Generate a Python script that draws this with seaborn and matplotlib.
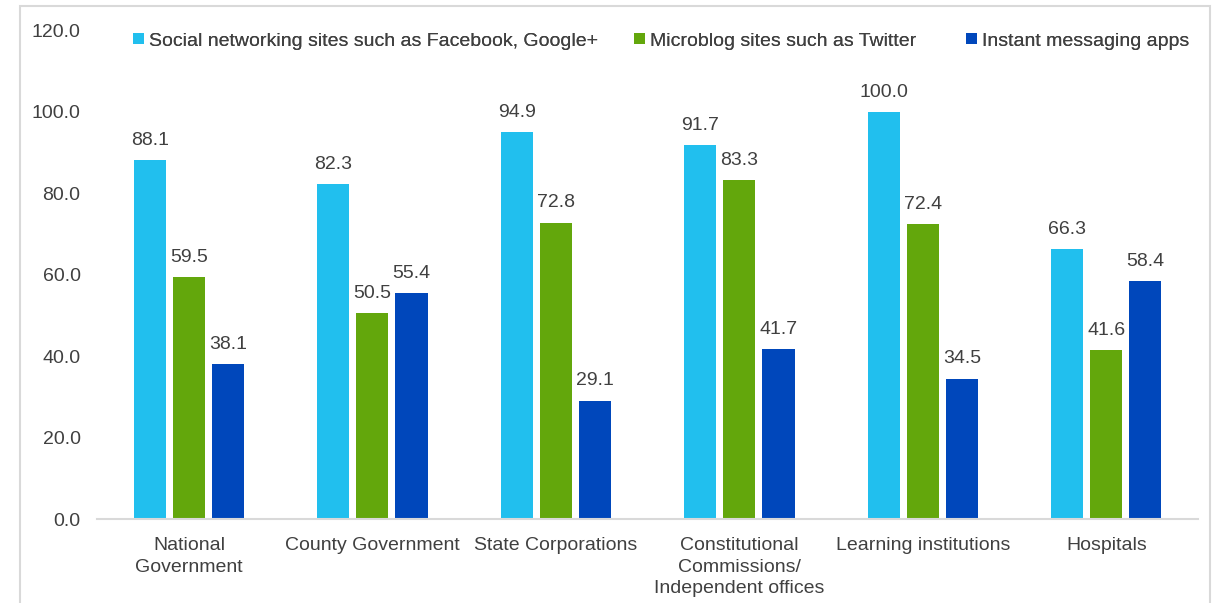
import matplotlib
matplotlib.use("Agg")
import matplotlib.pyplot as plt
from matplotlib.patches import Rectangle, Patch
import seaborn as sns
import pandas as pd

categories = ["National\nGovernment", "County Government", "State Corporations",
              "Constitutional\nCommissions/\nIndependent offices",
              "Learning institutions", "Hospitals"]
series_names = ["Social networking sites such as Facebook, Google+",
                "Microblog sites such as Twitter",
                "Instant messaging apps"]
social = [88.1, 82.3, 94.9, 91.7, 100.0, 66.3]
microblog = [59.5, 50.5, 72.8, 83.3, 72.4, 41.6]
messaging = [38.1, 55.4, 29.1, 41.7, 34.5, 58.4]
colors = ["#21BFEE", "#63A70C", "#0047BB"]
y_ticks = [0, 20, 40, 60, 80, 100, 120]

rows = []
for name, vals in zip(series_names, [social, microblog, messaging]):
    for cat, v in zip(categories, vals):
        rows.append({"category": cat, "series": name, "value": v})
df = pd.DataFrame(rows)

sns.set_theme(style="white")
plt.rcParams["font.family"] = ["Liberation Sans", "DejaVu Sans"]
text_color = "#404040"
fs = 14

W, H = 1215, 603
fig = plt.figure(figsize=(W / 100, H / 100), dpi=100)
ax = fig.add_axes([0.080, 0.139, 0.906, 0.811])

sns.barplot(data=df, x="category", y="value", hue="series",
            hue_order=series_names, order=categories,
            palette=colors, width=0.64, gap=0.18, saturation=1,
            edgecolor="none", ax=ax, legend=False)

for cont in ax.containers:
    ax.bar_label(cont, fmt="%.1f", padding=8, fontsize=fs, color=text_color)

ax.set_ylim(0, 120)
ax.set_xlim(-0.5, len(categories) - 0.5)
ax.set_yticks(y_ticks)
ax.set_yticklabels([f"{t:.1f}" for t in y_ticks])
ax.set_xlabel("")
ax.set_ylabel("")
ax.tick_params(axis="y", length=0, pad=12, labelsize=fs, labelcolor=text_color)
ax.tick_params(axis="x", length=0, pad=13, labelsize=fs, labelcolor=text_color)
for lbl in ax.get_xticklabels():
    lbl.set_linespacing(1.35)

for side in ["top", "right", "left"]:
    ax.spines[side].set_visible(False)
ax.spines["bottom"].set_color("#d9d9d9")
ax.spines["bottom"].set_linewidth(1.5)

# legend entries laid out across the top
legend_x = [133, 634, 966]
for name, c, x in zip(series_names, colors, legend_x):
    leg = fig.legend([Patch(facecolor=c, edgecolor="none")], [name],
                     loc="center left", bbox_to_anchor=(x / W, 1 - 41 / H),
                     frameon=False, fontsize=fs, labelcolor=text_color,
                     handlelength=0.55, handleheight=0.55,
                     handletextpad=0.25, borderaxespad=0, borderpad=0)
    fig.add_artist(leg)

# outer frame around the chart
fig.patches.append(Rectangle((20 / W, -0.05), 1190 / W, 1.05 - 6 / H,
                             transform=fig.transFigure, fill=False,
                             edgecolor="#d9d9d9", linewidth=1.5))

fig.savefig("out.png", dpi=100)
